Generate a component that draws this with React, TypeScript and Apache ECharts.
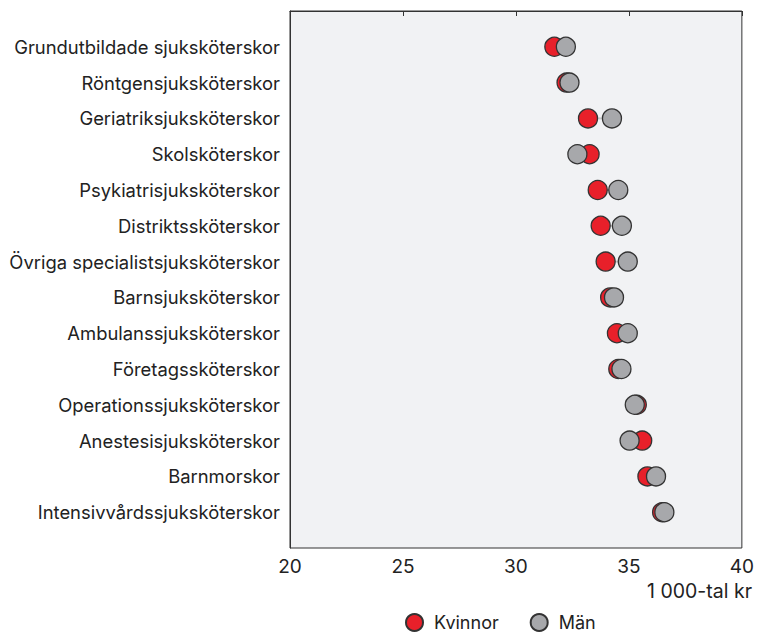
import React, { useEffect, useRef } from "react";
import * as echarts from "echarts";

const categories = [
  "Grundutbildade sjuksköterskor",
  "Röntgensjuksköterskor",
  "Geriatriksjuksköterskor",
  "Skolsköterskor",
  "Psykiatrisjuksköterskor",
  "Distriktssköterskor",
  "Övriga specialistsjuksköterskor",
  "Barnsjuksköterskor",
  "Ambulanssjuksköterskor",
  "Företagssköterskor",
  "Operationssjuksköterskor",
  "Anestesisjuksköterskor",
  "Barnmorskor",
  "Intensivvårdssjuksköterskor",
];
const kvinnor = [31.7, 32.24, 33.19, 33.26, 33.62, 33.75, 33.97, 34.17, 34.47, 34.53, 35.35, 35.59, 35.82, 36.47];
const man = [32.21, 32.37, 34.25, 32.72, 34.53, 34.69, 34.95, 34.34, 34.95, 34.67, 35.26, 35.03, 36.2, 36.57];
const xTicks = { min: 20, max: 40, interval: 5 };
const unitLabel = "1 000-tal kr";

const FONT = "Inter, 'Noto Sans', sans-serif";
const RED = "#e8202a";
const GRAY = "#a7a8ab";
const EDGE = "#333333";

export default function App() {
  const ref = useRef<HTMLDivElement>(null);
  useEffect(() => {
    if (!ref.current) return;
    const chart = echarts.init(ref.current, undefined, { renderer: "svg" });
    const pairs = categories.map((_, i) => [kvinnor[i], man[i], i + 1]);
    chart.setOption({
      animation: false,
      textStyle: { fontFamily: FONT },
      grid: {
        left: 290,
        right: 14,
        top: 11,
        bottom: 85,
        show: true,
        backgroundColor: "#f1f2f4",
        borderColor: EDGE,
        borderWidth: 1,
      },
      legend: {
        left: 400,
        top: 608,
        itemWidth: 17,
        itemHeight: 17,
        itemGap: 31,
        icon: "circle",
        textStyle: { fontSize: 18, color: "#222", fontFamily: FONT, padding: [0, 0, 0, 6] },
        data: ["Kvinnor", "Män"],
      },
      xAxis: {
        type: "value",
        min: xTicks.min,
        max: xTicks.max,
        interval: xTicks.interval,
        axisLine: { show: true, lineStyle: { color: EDGE } },
        axisTick: { show: true, length: 5, lineStyle: { color: EDGE } },
        splitLine: { show: false },
        axisLabel: { fontSize: 19, color: "#222", margin: 9, fontFamily: FONT },
      },
      yAxis: {
        type: "value",
        min: 0,
        max: categories.length + 1,
        interval: 1,
        inverse: true,
        axisLine: { show: true, lineStyle: { color: EDGE } },
        axisTick: { show: false },
        splitLine: { show: false },
        axisLabel: {
          fontSize: 18.4,
          color: "#222",
          margin: 10,
          fontFamily: FONT,
          formatter: (v: number) => categories[v - 1] ?? "",
        },
      },
      graphic: [
        {
          type: "text",
          right: 5,
          top: 581,
          style: { text: unitLabel, fill: "#222", font: `19.5px ${FONT}` },
        },
      ],
      series: [
        {
          type: "custom",
          silent: true,
          z: 1,
          data: pairs,
          encode: { x: [0, 1], y: 2 },
          renderItem: (params: any, api: any) => {
            const a = api.coord([api.value(0), api.value(2)]);
            const b = api.coord([api.value(1), api.value(2)]);
            return {
              type: "line",
              shape: { x1: a[0], y1: a[1], x2: b[0], y2: b[1] },
              style: { stroke: "#c5c6c8", lineWidth: 2 },
            };
          },
        },
        {
          name: "Kvinnor",
          type: "scatter",
          z: 2,
          symbol: "circle",
          symbolSize: 19,
          itemStyle: { color: RED, borderColor: EDGE, borderWidth: 1.3, opacity: 1 },
          data: kvinnor.map((v, i) => [v, i + 1]),
        },
        {
          name: "Män",
          type: "scatter",
          z: 3,
          symbol: "circle",
          symbolSize: 19,
          itemStyle: { color: GRAY, borderColor: EDGE, borderWidth: 1.3, opacity: 1 },
          data: man.map((v, i) => [v, i + 1]),
        },
      ],
    });
    return () => chart.dispose();
  }, []);
  return <div ref={ref} style={{ width: 757, height: 633, position: "absolute", left: 0, top: 0 }} />;
}
